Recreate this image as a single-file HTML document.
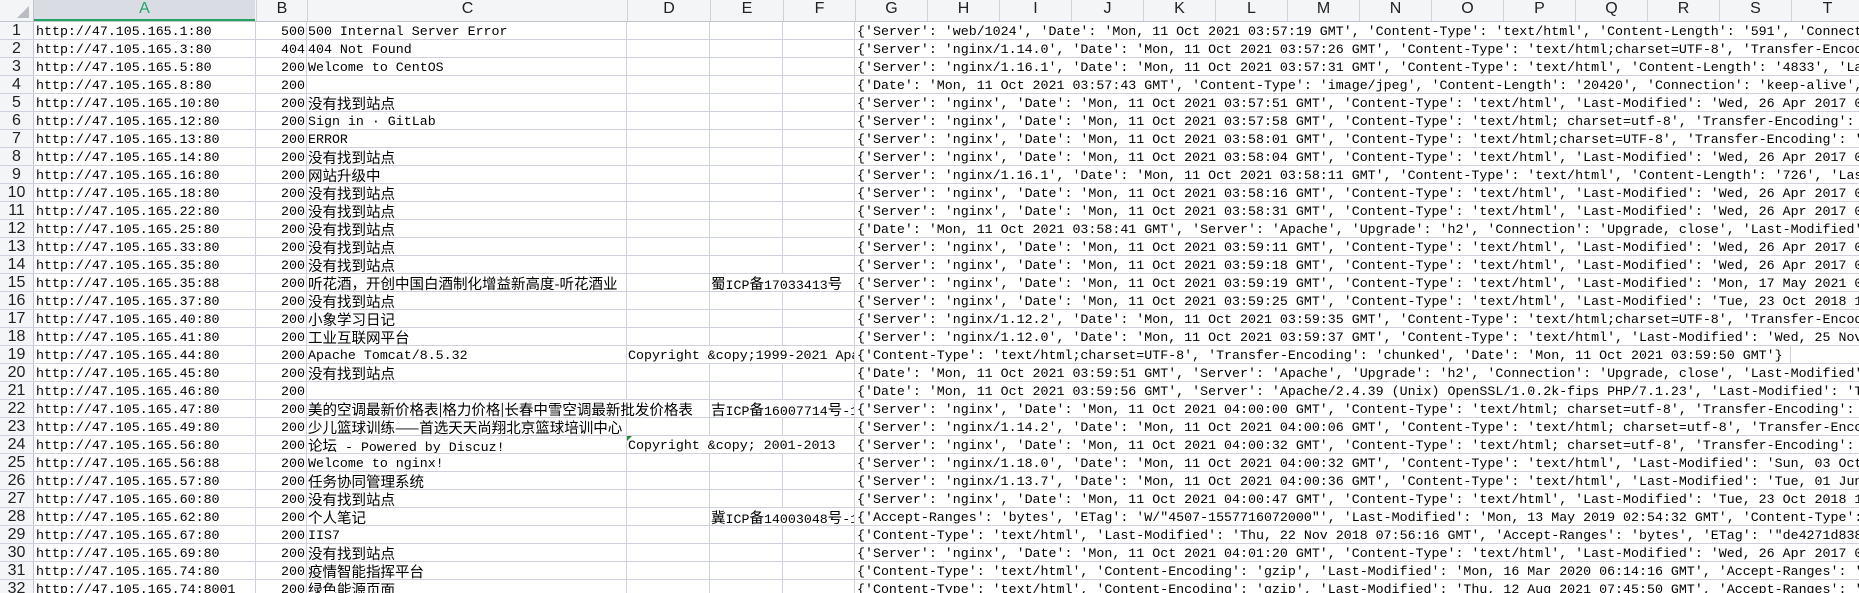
<!DOCTYPE html>
<html><head><meta charset="utf-8">
<style>
html,body{margin:0;padding:0;background:#fff;overflow:hidden;width:1859px;height:593px;position:relative}
.vl{position:absolute;top:0;width:1px;height:593px;background:#cdd2de}
.hd{position:absolute;top:0;left:0;width:1859px;height:21px;background:#f4f5f7;border-bottom:1px solid #bfc5d2}
.hd span{position:absolute;top:0;height:21px;line-height:22px;text-align:center;font:16px "Liberation Sans","DejaVu Sans",sans-serif;color:#222}
.r{position:absolute;left:0;width:1859px;height:17px;border-bottom:1px solid #cdd2de;font:13.3px "Liberation Mono","Noto Sans CJK SC",monospace;color:#000}
.r span{position:absolute;top:0;height:17px;line-height:19px;white-space:nowrap;overflow:hidden;background:#fff}
.r .n{left:0;width:33px;text-align:center;background:#f4f5f7;font:16px "Liberation Sans",sans-serif;color:#222;border-right:1px solid #bfc5d2;line-height:18px}
.a{left:34px;width:219px;padding-left:2px}
.b{left:256px;width:49px;text-align:right}
.c{left:307px;max-width:545px;padding-left:1px}
.c2{max-width:400px}
.d{left:627px;max-width:226px;padding-left:1px}
.e{left:710px;max-width:143px;padding-left:1px}
.g{left:855px;max-width:1004px;padding-left:2px}
.r .g.x{max-width:1004px}
.z{font-family:"Noto Sans CJK SC",sans-serif;font-size:14.5px;position:static!important;background:transparent!important;height:auto!important;overflow:visible!important}
.tri{position:absolute;left:627px;width:0;height:0;border-top:5px solid #1d8a3c;border-right:5px solid transparent;z-index:5}
</style></head><body>
<div class="vl" style="left:33px"></div>
<div class="vl" style="left:255px"></div>
<div class="vl" style="left:306px"></div>
<div class="vl" style="left:626px"></div>
<div class="vl" style="left:709px"></div>
<div class="vl" style="left:782px"></div>
<div class="vl" style="left:854px"></div>
<div class="vl" style="left:926px"></div>
<div class="vl" style="left:998px"></div>
<div class="vl" style="left:1070px"></div>
<div class="vl" style="left:1142px"></div>
<div class="vl" style="left:1214px"></div>
<div class="vl" style="left:1286px"></div>
<div class="vl" style="left:1358px"></div>
<div class="vl" style="left:1430px"></div>
<div class="vl" style="left:1502px"></div>
<div class="vl" style="left:1574px"></div>
<div class="vl" style="left:1646px"></div>
<div class="vl" style="left:1718px"></div>
<div class="vl" style="left:1790px"></div>
<div class="hd">
<span style="left:0;width:33px;border-right:1px solid #bfc5d2;height:21px"><svg width="12" height="12" style="position:absolute;left:17px;top:6px"><polygon points="12,0 12,12 0,12" fill="#b9bcc2"/></svg></span>
<span style="left:34px;width:221px;background:#d9dce2;color:#21a366;height:19px;border-bottom:2px solid #21a366">A</span>
<span style="left:256px;width:50px;border-left:1px solid #cdd2de">B</span>
<span style="left:307px;width:319px;border-left:1px solid #cdd2de">C</span>
<span style="left:627px;width:82px;border-left:1px solid #cdd2de">D</span>
<span style="left:710px;width:72px;border-left:1px solid #cdd2de">E</span>
<span style="left:783px;width:71px;border-left:1px solid #cdd2de">F</span>
<span style="left:855px;width:71px;border-left:1px solid #cdd2de">G</span>
<span style="left:927px;width:71px;border-left:1px solid #cdd2de">H</span>
<span style="left:999px;width:71px;border-left:1px solid #cdd2de">I</span>
<span style="left:1071px;width:71px;border-left:1px solid #cdd2de">J</span>
<span style="left:1143px;width:71px;border-left:1px solid #cdd2de">K</span>
<span style="left:1215px;width:71px;border-left:1px solid #cdd2de">L</span>
<span style="left:1287px;width:71px;border-left:1px solid #cdd2de">M</span>
<span style="left:1359px;width:71px;border-left:1px solid #cdd2de">N</span>
<span style="left:1431px;width:71px;border-left:1px solid #cdd2de">O</span>
<span style="left:1503px;width:71px;border-left:1px solid #cdd2de">P</span>
<span style="left:1575px;width:71px;border-left:1px solid #cdd2de">Q</span>
<span style="left:1647px;width:71px;border-left:1px solid #cdd2de">R</span>
<span style="left:1719px;width:71px;border-left:1px solid #cdd2de">S</span>
<span style="left:1791px;width:71px;border-left:1px solid #cdd2de">T</span>
</div>

<div class="r" style="top:22px"><span class="n">1</span><span class="a">http://47.105.165.1:80</span><span class="b">500</span><span class="c">500 Internal Server Error</span><span class="g">{'Server': 'web/1024', 'Date': 'Mon, 11 Oct 2021 03:57:19 GMT', 'Content-Type': 'text/html', 'Content-Length': '591', 'Connection': 'close'}</span></div>
<div class="r" style="top:40px"><span class="n">2</span><span class="a">http://47.105.165.3:80</span><span class="b">404</span><span class="c">404 Not Found</span><span class="g">{'Server': 'nginx/1.14.0', 'Date': 'Mon, 11 Oct 2021 03:57:26 GMT', 'Content-Type': 'text/html;charset=UTF-8', 'Transfer-Encoding': 'chunked'}</span></div>
<div class="r" style="top:58px"><span class="n">3</span><span class="a">http://47.105.165.5:80</span><span class="b">200</span><span class="c">Welcome to CentOS</span><span class="g">{'Server': 'nginx/1.16.1', 'Date': 'Mon, 11 Oct 2021 03:57:31 GMT', 'Content-Type': 'text/html', 'Content-Length': '4833', 'Last-Modified'</span></div>
<div class="r" style="top:76px"><span class="n">4</span><span class="a">http://47.105.165.8:80</span><span class="b">200</span><span class="g">{'Date': 'Mon, 11 Oct 2021 03:57:43 GMT', 'Content-Type': 'image/jpeg', 'Content-Length': '20420', 'Connection': 'keep-alive', 'Server'</span></div>
<div class="r" style="top:94px"><span class="n">5</span><span class="a">http://47.105.165.10:80</span><span class="b">200</span><span class="c"><span class="z">没有找到站点</span></span><span class="g">{'Server': 'nginx', 'Date': 'Mon, 11 Oct 2021 03:57:51 GMT', 'Content-Type': 'text/html', 'Last-Modified': 'Wed, 26 Apr 2017 08:03:47 GMT'</span></div>
<div class="r" style="top:112px"><span class="n">6</span><span class="a">http://47.105.165.12:80</span><span class="b">200</span><span class="c">Sign in · GitLab</span><span class="g">{'Server': 'nginx', 'Date': 'Mon, 11 Oct 2021 03:57:58 GMT', 'Content-Type': 'text/html; charset=utf-8', 'Transfer-Encoding': 'chunked'</span></div>
<div class="r" style="top:130px"><span class="n">7</span><span class="a">http://47.105.165.13:80</span><span class="b">200</span><span class="c">ERROR</span><span class="g">{'Server': 'nginx', 'Date': 'Mon, 11 Oct 2021 03:58:01 GMT', 'Content-Type': 'text/html;charset=UTF-8', 'Transfer-Encoding': 'chunked'</span></div>
<div class="r" style="top:148px"><span class="n">8</span><span class="a">http://47.105.165.14:80</span><span class="b">200</span><span class="c"><span class="z">没有找到站点</span></span><span class="g">{'Server': 'nginx', 'Date': 'Mon, 11 Oct 2021 03:58:04 GMT', 'Content-Type': 'text/html', 'Last-Modified': 'Wed, 26 Apr 2017 08:03:47 GMT'</span></div>
<div class="r" style="top:166px"><span class="n">9</span><span class="a">http://47.105.165.16:80</span><span class="b">200</span><span class="c"><span class="z">网站升级中</span></span><span class="g">{'Server': 'nginx/1.16.1', 'Date': 'Mon, 11 Oct 2021 03:58:11 GMT', 'Content-Type': 'text/html', 'Content-Length': '726', 'Last-Modified'</span></div>
<div class="r" style="top:184px"><span class="n">10</span><span class="a">http://47.105.165.18:80</span><span class="b">200</span><span class="c"><span class="z">没有找到站点</span></span><span class="g">{'Server': 'nginx', 'Date': 'Mon, 11 Oct 2021 03:58:16 GMT', 'Content-Type': 'text/html', 'Last-Modified': 'Wed, 26 Apr 2017 08:03:47 GMT'</span></div>
<div class="r" style="top:202px"><span class="n">11</span><span class="a">http://47.105.165.22:80</span><span class="b">200</span><span class="c"><span class="z">没有找到站点</span></span><span class="g">{'Server': 'nginx', 'Date': 'Mon, 11 Oct 2021 03:58:31 GMT', 'Content-Type': 'text/html', 'Last-Modified': 'Wed, 26 Apr 2017 08:03:47 GMT'</span></div>
<div class="r" style="top:220px"><span class="n">12</span><span class="a">http://47.105.165.25:80</span><span class="b">200</span><span class="c"><span class="z">没有找到站点</span></span><span class="g">{'Date': 'Mon, 11 Oct 2021 03:58:41 GMT', 'Server': 'Apache', 'Upgrade': 'h2', 'Connection': 'Upgrade, close', 'Last-Modified': 'Wed'</span></div>
<div class="r" style="top:238px"><span class="n">13</span><span class="a">http://47.105.165.33:80</span><span class="b">200</span><span class="c"><span class="z">没有找到站点</span></span><span class="g">{'Server': 'nginx', 'Date': 'Mon, 11 Oct 2021 03:59:11 GMT', 'Content-Type': 'text/html', 'Last-Modified': 'Wed, 26 Apr 2017 08:03:47 GMT'</span></div>
<div class="r" style="top:256px"><span class="n">14</span><span class="a">http://47.105.165.35:80</span><span class="b">200</span><span class="c"><span class="z">没有找到站点</span></span><span class="g">{'Server': 'nginx', 'Date': 'Mon, 11 Oct 2021 03:59:18 GMT', 'Content-Type': 'text/html', 'Last-Modified': 'Wed, 26 Apr 2017 08:03:47 GMT'</span></div>
<div class="r" style="top:274px"><span class="n">15</span><span class="a">http://47.105.165.35:88</span><span class="b">200</span><span class="c c2"><span class="z">听花酒，开创中国白酒制化增益新高度-听花酒业</span></span><span class="e"><span class="z">蜀</span>ICP<span class="z">备</span>17033413<span class="z">号</span></span><span class="g">{'Server': 'nginx', 'Date': 'Mon, 11 Oct 2021 03:59:19 GMT', 'Content-Type': 'text/html', 'Last-Modified': 'Mon, 17 May 2021 06:12:10 GMT'</span></div>
<div class="r" style="top:292px"><span class="n">16</span><span class="a">http://47.105.165.37:80</span><span class="b">200</span><span class="c"><span class="z">没有找到站点</span></span><span class="g">{'Server': 'nginx', 'Date': 'Mon, 11 Oct 2021 03:59:25 GMT', 'Content-Type': 'text/html', 'Last-Modified': 'Tue, 23 Oct 2018 11:04:05 GMT'</span></div>
<div class="r" style="top:310px"><span class="n">17</span><span class="a">http://47.105.165.40:80</span><span class="b">200</span><span class="c"><span class="z">小象学习日记</span></span><span class="g">{'Server': 'nginx/1.12.2', 'Date': 'Mon, 11 Oct 2021 03:59:35 GMT', 'Content-Type': 'text/html;charset=UTF-8', 'Transfer-Encoding'</span></div>
<div class="r" style="top:328px"><span class="n">18</span><span class="a">http://47.105.165.41:80</span><span class="b">200</span><span class="c"><span class="z">工业互联网平台</span></span><span class="g">{'Server': 'nginx/1.12.0', 'Date': 'Mon, 11 Oct 2021 03:59:37 GMT', 'Content-Type': 'text/html', 'Last-Modified': 'Wed, 25 Nov 2020'</span></div>
<div class="r" style="top:346px"><span class="n">19</span><span class="a">http://47.105.165.44:80</span><span class="b">200</span><span class="c" style="max-width:318px">Apache Tomcat/8.5.32</span><span class="d">Copyright &amp;copy;1999-2021 Apache Software Foundation</span><span class="g">{'Content-Type': 'text/html;charset=UTF-8', 'Transfer-Encoding': 'chunked', 'Date': 'Mon, 11 Oct 2021 03:59:50 GMT'}</span></div>
<div class="r" style="top:364px"><span class="n">20</span><span class="a">http://47.105.165.45:80</span><span class="b">200</span><span class="c"><span class="z">没有找到站点</span></span><span class="g">{'Date': 'Mon, 11 Oct 2021 03:59:51 GMT', 'Server': 'Apache', 'Upgrade': 'h2', 'Connection': 'Upgrade, close', 'Last-Modified': 'Wed'</span></div>
<div class="r" style="top:382px"><span class="n">21</span><span class="a">http://47.105.165.46:80</span><span class="b">200</span><span class="g">{'Date': 'Mon, 11 Oct 2021 03:59:56 GMT', 'Server': 'Apache/2.4.39 (Unix) OpenSSL/1.0.2k-fips PHP/7.1.23', 'Last-Modified': 'Tue'</span></div>
<div class="r" style="top:400px"><span class="n">22</span><span class="a">http://47.105.165.47:80</span><span class="b">200</span><span class="c c2"><span class="z">美的空调最新价格表|格力价格|长春中雪空调最新批发价格表</span></span><span class="e"><span class="z">吉</span>ICP<span class="z">备</span>16007714<span class="z">号</span>-1</span><span class="g">{'Server': 'nginx', 'Date': 'Mon, 11 Oct 2021 04:00:00 GMT', 'Content-Type': 'text/html; charset=utf-8', 'Transfer-Encoding': 'chunked'</span></div>
<div class="r" style="top:418px"><span class="n">23</span><span class="a">http://47.105.165.49:80</span><span class="b">200</span><span class="c"><span class="z">少儿篮球训练——首选天天尚翔北京篮球培训中心</span></span><span class="g">{'Server': 'nginx/1.14.2', 'Date': 'Mon, 11 Oct 2021 04:00:06 GMT', 'Content-Type': 'text/html; charset=utf-8', 'Transfer-Encoding'</span></div>
<div class="r" style="top:436px"><span class="n">24</span><span class="a">http://47.105.165.56:80</span><span class="b">200</span><span class="c" style="max-width:318px"><span class="z">论坛</span> -  Powered by Discuz!</span><span class="d">Copyright &amp;copy; 2001-2013</span><span class="g">{'Server': 'nginx', 'Date': 'Mon, 11 Oct 2021 04:00:32 GMT', 'Content-Type': 'text/html; charset=utf-8', 'Transfer-Encoding': 'chunked'</span></div>
<div class="tri" style="top:436px"></div>
<div class="r" style="top:454px"><span class="n">25</span><span class="a">http://47.105.165.56:88</span><span class="b">200</span><span class="c">Welcome to nginx!</span><span class="g">{'Server': 'nginx/1.18.0', 'Date': 'Mon, 11 Oct 2021 04:00:32 GMT', 'Content-Type': 'text/html', 'Last-Modified': 'Sun, 03 Oct 2021'</span></div>
<div class="r" style="top:472px"><span class="n">26</span><span class="a">http://47.105.165.57:80</span><span class="b">200</span><span class="c"><span class="z">任务协同管理系统</span></span><span class="g">{'Server': 'nginx/1.13.7', 'Date': 'Mon, 11 Oct 2021 04:00:36 GMT', 'Content-Type': 'text/html', 'Last-Modified': 'Tue, 01 Jun 2021'</span></div>
<div class="r" style="top:490px"><span class="n">27</span><span class="a">http://47.105.165.60:80</span><span class="b">200</span><span class="c"><span class="z">没有找到站点</span></span><span class="g">{'Server': 'nginx', 'Date': 'Mon, 11 Oct 2021 04:00:47 GMT', 'Content-Type': 'text/html', 'Last-Modified': 'Tue, 23 Oct 2018 11:04:05 GMT'</span></div>
<div class="r" style="top:508px"><span class="n">28</span><span class="a">http://47.105.165.62:80</span><span class="b">200</span><span class="c c2"><span class="z">个人笔记</span></span><span class="e"><span class="z">冀</span>ICP<span class="z">备</span>14003048<span class="z">号</span>-1</span><span class="g">{'Accept-Ranges': 'bytes', 'ETag': 'W/"4507-1557716072000"', 'Last-Modified': 'Mon, 13 May 2019 02:54:32 GMT', 'Content-Type': 'text/html'</span></div>
<div class="r" style="top:526px"><span class="n">29</span><span class="a">http://47.105.165.67:80</span><span class="b">200</span><span class="c">IIS7</span><span class="g">{'Content-Type': 'text/html', 'Last-Modified': 'Thu, 22 Nov 2018 07:56:16 GMT', 'Accept-Ranges': 'bytes', 'ETag': '"de4271d8382d41:0"'</span></div>
<div class="r" style="top:544px"><span class="n">30</span><span class="a">http://47.105.165.69:80</span><span class="b">200</span><span class="c"><span class="z">没有找到站点</span></span><span class="g">{'Server': 'nginx', 'Date': 'Mon, 11 Oct 2021 04:01:20 GMT', 'Content-Type': 'text/html', 'Last-Modified': 'Wed, 26 Apr 2017 08:03:47 GMT'</span></div>
<div class="r" style="top:562px"><span class="n">31</span><span class="a">http://47.105.165.74:80</span><span class="b">200</span><span class="c"><span class="z">疫情智能指挥平台</span></span><span class="g">{'Content-Type': 'text/html', 'Content-Encoding': 'gzip', 'Last-Modified': 'Mon, 16 Mar 2020 06:14:16 GMT', 'Accept-Ranges': 'bytes'</span></div>
<div class="r" style="top:580px"><span class="n">32</span><span class="a">http://47.105.165.74:8001</span><span class="b">200</span><span class="c"><span class="z">绿色能源页面</span></span><span class="g">{'Content-Type': 'text/html', 'Content-Encoding': 'gzip', 'Last-Modified': 'Thu, 12 Aug 2021 07:45:50 GMT', 'Accept-Ranges': 'bytes'</span></div>
</body></html>
